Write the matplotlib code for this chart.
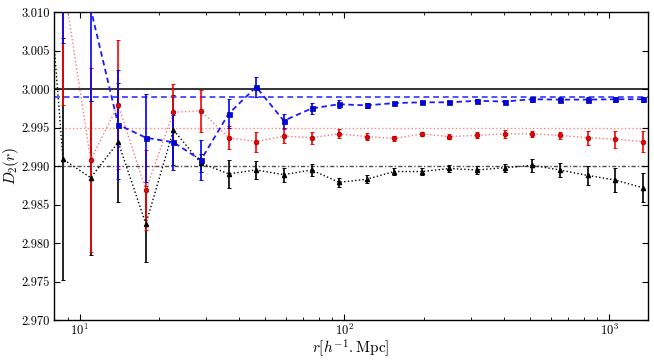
import matplotlib
matplotlib.use("Agg")
import matplotlib.pyplot as plt
import numpy as np

# ---- data ----
r = [6.8, 8.65, 11.0, 13.98, 17.78, 22.6, 28.7, 36.5, 46.4, 59.0, 75.1, 95.4,
     121.3, 154.2, 196.0, 249.2, 316.8, 402.7, 512.0, 651.0, 827.6, 1052.0, 1337.0]

d2_black = [3.037, 2.9909, 2.9885, 2.9931, 2.9825, 2.9947, 2.9904, 2.9890, 2.9895,
            2.9889, 2.9895, 2.9879, 2.9883, 2.9893, 2.9893, 2.9897, 2.9895, 2.9898,
            2.9901, 2.9895, 2.9888, 2.9882, 2.9872]
err_black = [0.010, 0.0157, 0.010, 0.0077, 0.0049, 0.0045, 0.0012, 0.0018, 0.0012,
             0.0009, 0.0008, 0.0006, 0.0005, 0.0004, 0.0004, 0.0005, 0.0005, 0.0005,
             0.0008, 0.0009, 0.0012, 0.0015, 0.0019]

d2_red = [3.03, 3.0143, 2.9908, 2.9980, 2.9869, 2.9970, 2.9972, 2.9937, 2.9932,
          2.9939, 2.9937, 2.9942, 2.99385, 2.9936, 2.9942, 2.99385, 2.9940, 2.9942,
          2.9942, 2.9940, 2.9937, 2.9935, 2.9932]
err_red = [0.010, 0.0163, 0.0120, 0.0084, 0.0052, 0.0037, 0.0027, 0.0015, 0.0013,
           0.0009, 0.0008, 0.0006, 0.0004, 0.0003, 0.0003, 0.0003, 0.0004, 0.0005,
           0.0004, 0.0005, 0.0009, 0.0011, 0.0014]

d2_blue = [3.03, 3.020, 3.0105, 2.9954, 2.9937, 2.9931, 2.9908, 2.9968, 3.0003,
           2.9959, 2.9975, 2.99805, 2.9979, 2.9982, 2.9983, 2.9983, 2.9985, 2.9984,
           2.9987, 2.99865, 2.99865, 2.9987, 2.9987]
err_blue = [0.010, 0.014, 0.012, 0.0071, 0.0057, 0.0036, 0.0026, 0.0019, 0.0013,
            0.0009, 0.0007, 0.0005, 0.0003, 0.0002, 0.0002, 0.0002, 0.0002, 0.0002,
            0.0003, 0.0003, 0.0003, 0.0003, 0.0003]

ref_black_solid = 3.000
ref_blue = 2.999
ref_red = 2.995
ref_black_dot = 2.990

ytick_vals = [2.970, 2.975, 2.980, 2.985, 2.990, 2.995, 3.000, 3.005, 3.010]

plt.rcParams.update({
    "font.family": "serif",
    "font.serif": ["cmr10", "DejaVu Serif"],
    "mathtext.fontset": "cm",
    "axes.formatter.use_mathtext": True,
    "xtick.direction": "in",
    "ytick.direction": "in",
    "xtick.top": True,
    "ytick.right": True,
})

fig = plt.figure(figsize=(6.54, 3.60), dpi=100)
ax = fig.add_axes([0.0826, 0.1111, 0.9082, 0.8547])

# reference lines
ax.axhline(ref_black_solid, color="#333333", lw=1.4, zorder=1)
ax.axhline(ref_blue, color="#3333ff", lw=1.4, ls=(0, (3, 2)), alpha=0.85, zorder=1)
ax.axhline(ref_red, color="#ff6666", lw=1.0, ls=":", alpha=0.8, zorder=1)
ax.axhline(ref_black_dot, color="#222222", lw=1.0, ls=(0, (1, 1.5, 3, 1.5)), alpha=0.8, zorder=1)

# error bars (black, red, blue order)
for y, e, c in [(d2_black, err_black, "k"), (d2_red, err_red, "r"), (d2_blue, err_blue, "b")]:
    ax.errorbar(r, y, yerr=e, fmt="none", ecolor=c, elinewidth=1.2,
                capsize=1.6, capthick=0.7, zorder=2)

# connecting lines + markers
ax.plot(r, d2_black, ls=":", color="k", lw=1.0, marker="^", ms=3.0,
        mfc="k", mec="k", zorder=3)
ax.plot(r, d2_red, ls=":", color="#ff7777", lw=1.0, zorder=3)
ax.plot(r, d2_red, ls="none", marker="o", ms=3.4, mfc="#ee0000", mec="#880000",
        mew=0.5, zorder=4)
ax.plot(r, d2_blue, ls=(0, (3, 2)), color="#1a1aff", lw=1.3, zorder=3)
ax.plot(r, d2_blue, ls="none", marker="s", ms=3.6, mfc="#0000ee", mec="#000088",
        mew=0.5, zorder=4)

ax.set_xscale("log")
ax.set_xlim(8, 1400)
ax.set_ylim(2.970, 3.010)
ax.set_yticks(ytick_vals)
ax.set_yticklabels([f"{v:.3f}" for v in ytick_vals])

ax.tick_params(which="major", length=4, width=0.8, labelsize=9, pad=3)
ax.tick_params(axis="x", which="major", pad=2)
ax.tick_params(which="minor", length=2, width=0.6)
for s in ax.spines.values():
    s.set_linewidth(1.0)

ax.set_xlabel(r"$r[h^{-1}.\mathrm{Mpc}]$", fontsize=11, va="center")
ax.xaxis.set_label_coords(0.5, -0.09)
ax.set_ylabel(r"$D_2(r)$", fontsize=11, va="center")
ax.yaxis.set_label_coords(-0.072, 0.5)

fig.savefig("out.png", dpi=100)
